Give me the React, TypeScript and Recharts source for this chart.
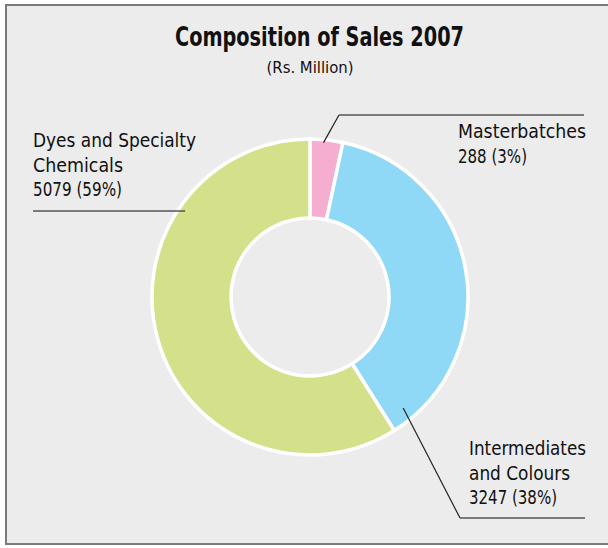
import React from 'react';
import { PieChart, Pie, Cell, Customized } from 'recharts';

const categories = ['Masterbatches', 'Intermediates and Colours', 'Dyes and Specialty Chemicals'];
const values = [288, 3247, 5079];
const percents = ['3%', '38%', '59%'];
const colors = ['#f5aecf', '#8fd9f7', '#d4e08a'];

const title = 'Composition of Sales 2007';
const subtitle = '(Rs. Million)';

const FONT = "'DejaVu Sans Condensed', 'Liberation Sans Narrow', sans-serif";

const data = categories.map((name, i) => ({ name, value: values[i], pct: percents[i] }));

// label layout: anchor angle (deg, clockwise from top), anchor radius, elbow, line end, text position, lines and line widths
const labelLayout = [
  { angle: 5, r: 155, elbow: [339, 115], end: [584, 115], tx: 458, ty: 138, lines: ['Masterbatches'], widths: [128, 69] },
  { angle: 140, r: 145, elbow: [460, 518], end: [585, 518], tx: 469, ty: 455, lines: ['Intermediates', 'and Colours'], widths: [117, 101, 88] },
  { angle: 304.5, r: 152, elbow: [185, 211], end: [33, 211], tx: 33, ty: 147, lines: ['Dyes and Specialty', 'Chemicals'], widths: [163, 90, 89] },
];

const renderLabel = (props: any) => {
  const { cx, cy, index } = props;
  const L = labelLayout[index];
  const d = data[index];
  const a = (L.angle * Math.PI) / 180;
  const ax = cx + L.r * Math.sin(a);
  const ay = cy - L.r * Math.cos(a);
  const textLines = [...L.lines, `${d.value} (${d.pct})`];
  return (
    <g key={`lbl-${index}`}>
      <line x1={ax} y1={ay} x2={L.elbow[0]} y2={L.elbow[1]} stroke="#222" strokeWidth={1.2} />
      <line x1={L.elbow[0]} y1={L.elbow[1]} x2={L.end[0]} y2={L.end[1]} stroke="#555" strokeWidth={1.6} />
      {textLines.map((t, i) => (
        <text
          key={i}
          x={L.tx}
          y={L.ty + i * 24.5}
          fontFamily={FONT}
          fontSize={20}
          fill="#111"
          textLength={L.widths[i]}
          lengthAdjust="spacingAndGlyphs"
        >
          {t}
        </text>
      ))}
    </g>
  );
};

const Titles = () => (
  <g>
    <text x={319.5} y={46} textAnchor="middle" fontFamily={FONT} fontWeight="bold" fontSize={27} fill="#111" textLength={289} lengthAdjust="spacingAndGlyphs">{title}</text>
    <text x={310} y={73} textAnchor="middle" fontFamily={FONT} fontSize={16.5} fill="#111" textLength={87} lengthAdjust="spacingAndGlyphs">{subtitle}</text>
  </g>
);

export default function App() {
  return (
    <div style={{ position: 'absolute', left: 0, top: 0, width: 608, height: 548, overflow: 'hidden', background: '#ffffff' }}>
      <div style={{ position: 'absolute', left: 5, top: 4, width: 640, height: 537, background: '#ececec', border: '2px solid #7a7a7a' }} />
      <div style={{ position: 'absolute', left: 0, top: 0 }}>
        <PieChart width={608} height={548} margin={{ top: 0, right: 0, bottom: 0, left: 0 }}>
          <Customized component={<Titles />} />
          <Pie
            data={data}
            dataKey="value"
            nameKey="name"
            cx={310}
            cy={297}
            outerRadius={158}
            innerRadius={79}
            startAngle={90}
            endAngle={-270}
            stroke="#ffffff"
            strokeWidth={3.5}
            label={renderLabel}
            labelLine={false}
            isAnimationActive={false}
          >
            {data.map((d, i) => (
              <Cell key={d.name} fill={colors[i]} />
            ))}
          </Pie>
        </PieChart>
      </div>
    </div>
  );
}
